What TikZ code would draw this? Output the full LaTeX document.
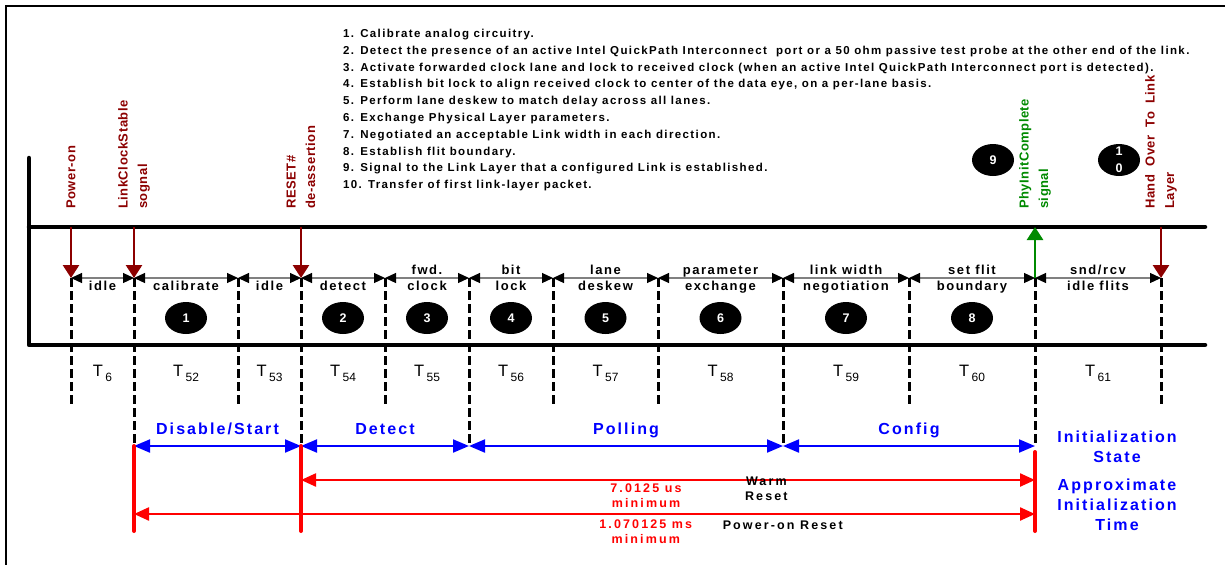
\documentclass[tikz,border=0pt]{standalone}
\usepackage{fontspec}
\setmainfont{Liberation Sans}
\usepackage{tikz}
\usetikzlibrary{arrows.meta,shapes.geometric}
\definecolor{rossoscuro}{HTML}{8C0000}
\definecolor{verde}{HTML}{008A00}
\definecolor{blustato}{HTML}{0000FF}
\definecolor{rosso}{HTML}{FF0000}
\newcommand{\tlab}[1]{T\kern2.5pt\raisebox{-5pt}{\fontsize{12}{12}\selectfont #1}}

\begin{document}
\begin{tikzpicture}[x=1pt, y=-1pt,
            every node/.style={inner sep=0pt},
            binario/.style={line width=4.5pt, line cap=round, line join=round},
            tick/.style={dash pattern=on 9pt off 4pt, line width=3pt},
            fase/.style={{Triangle[length=11pt,width=10pt,color=black]}-{Triangle[length=11pt,width=10pt,color=black]}, gray, line width=1.2pt},
            segnale/.style={-{Triangle[length=13pt,width=16pt]}, line width=2.7pt},
            stato/.style={{Triangle[length=16pt,width=13pt]}-{Triangle[length=16pt,width=13pt]}, blustato, line width=2pt},
            reset/.style={{Triangle[length=15pt,width=13pt]}-{Triangle[length=15pt,width=13pt]}, rosso, line width=2.3pt},
            limite/.style={rosso, line width=4pt, line cap=round},
            passo/.style={ellipse, fill=black, minimum width=42pt, minimum height=32pt},
            numero/.style={text=white, align=center, font=\fontsize{12.5}{17}\selectfont\bfseries},
            elenco/.style={align=left, font=\fontsize{11.5}{16.8}\selectfont\bfseries\addfontfeatures{LetterSpace=12}},
            fasetesto/.style={align=center, font=\fontsize{13}{16}\selectfont\bfseries\addfontfeatures{LetterSpace=12}},
            segtesto/.style={rotate=90, anchor=west, align=left, font=\fontsize{13}{19.5}\selectfont\bfseries\addfontfeatures{LetterSpace=4}},
            tempo/.style={anchor=base, font=\fontsize{16.5}{17}\selectfont},
            statotesto/.style={text=blustato, align=center, font=\fontsize{16}{20}\selectfont\bfseries\addfontfeatures{LetterSpace=13}},
            resettesto/.style={align=center, text=black, font=\fontsize{12.5}{14.5}\selectfont\bfseries\addfontfeatures{LetterSpace=17}}]
        \useasboundingbox (0,0) rectangle (1225,565);

        % Cornice
        \draw[line width=2.3pt] (1225,6) -- (6,6) -- (6,565);

        % Righe di riferimento
        \coordinate (sup) at (0,227);
        \coordinate (etich) at (0,209);
        \coordinate (wr) at (0,480);
        \coordinate (pr) at (0,514);
        \coordinate (fondo) at (0,531);

        % Binario del link
        \draw[binario] (29,158) -- (29,345) -- (1205,345);
        \draw[binario] (29,227) -- (1205,227);

        % Confini delle fasi (tratteggiati)
        \foreach \n/\x/\y in {0/71/407, 1/134/446, 2/238/407, 3/301/446,
                4/385/407, 5/469/446, 6/553/407, 7/658/407,
                8/783/446, 9/909/407, 10/1035/446, 11/1161/407}{
                \coordinate (b\n) at (\x,278);
                \coordinate (f\n) at (\x,\y);
                \draw[tick] (b\n) -- (f\n);
            }

        % Frecce delle fasi
        \foreach \a [count=\b] in {0,...,10}
            \draw[fase] (b\a) -- (b\b);

        % Nomi delle fasi (ultima riga sotto la freccia)
        \foreach \a/\b/\txt in {
                0/1/idle,
                1/2/calibrate,
                2/3/idle,
                3/4/detect,
                4/5/{fwd.\\clock},
                5/6/{bit\\lock},
                6/7/{lane\\deskew},
                7/8/{parameter\\exchange},
                8/9/{link width\\negotiation},
                9/10/{set flit\\boundary},
                10/11/{snd/rcv\\idle flits}}
            \path (b\a) -- (b\b) node[midway, fasetesto, anchor=base, yshift=-12pt] (l\a) {\txt};

        % Passi numerati
        \foreach \a/\b/\k in {1/2/1, 3/4/2, 4/5/3, 5/6/4, 6/7/5, 7/8/6, 8/9/7, 9/10/8}
            \path (b\a) -- (b\b) node[midway, passo, numero, yshift=-40pt] (n\k) {\k};
        \node[passo, numero] (n9) at (993,160) {9};
        \node[passo] (n10) at (1119,160) {};
        \node[numero] at (n10) {1\\0};

        % Tempi
        \foreach \a/\b/\t in {0/1/6, 1/2/52, 2/3/53, 3/4/54, 4/5/55, 5/6/56,
                6/7/57, 7/8/58, 8/9/59, 9/10/60, 10/11/61}
            \path (b\a) -- (b\b) node[midway, tempo, yshift=-98pt] (t\t) {\tlab{\t}};

        % Segnali
        \foreach \n/\txt in {
                0/Power-on,
                1/{LinkClockStable\\sognal},
                3/{RESET\#\\de-assertion},
                11/{Hand\hspace{4pt} Over\hspace{4pt} To\hspace{4pt} Link\\Layer}}{
                \draw[segnale, rossoscuro] (b\n |- sup) -- (b\n);
                \node[segtesto, text=rossoscuro] (s\n) at (b\n |- etich) {\txt};
            }
        \draw[segnale, verde] (b10) -- (b10 |- sup);
        \node[segtesto, text=verde] (s10) at (b10 |- etich) {PhyInitComplete\\signal};

        % Stati di inizializzazione
        \foreach \a/\b/\txt in {1/3/{Disable/Start}, 3/5/Detect, 5/8/Polling, 8/10/Config}
            \draw[stato] (f\a) -- (f\b)
            node[midway, statotesto, anchor=base, yshift=12pt] (st\a) {\txt};
        \node[statotesto, anchor=base] (init) at (1117,462) {Initialization\\State};
        \node[statotesto, anchor=base] (durata) at (1117,530) {Approximate\\Initialization\\Time};

        % Tempi di reset
        \draw[limite] (f1) -- (f1 |- fondo);
        \draw[limite] (f3) -- (f3 |- fondo);
        \draw[limite] ([yshift=-6pt]f10) -- (f10 |- fondo);
        \draw[reset] (f3 |- wr) -- (f10 |- wr)
        node[pos=0.47, resettesto, text=rosso, anchor=base, yshift=-27pt] (wmin) {7.0125 us\\minimum}
        node[pos=0.634, resettesto, anchor=base, yshift=-20pt] (wlab) {Warm\\Reset};
        \draw[reset] (f1 |- pr) -- (f10 |- pr)
        node[pos=0.568, resettesto, text=rosso, anchor=base, yshift=-29pt] (pmin) {1.070125 ms\\minimum}
        node[pos=0.72, resettesto, anchor=base, yshift=-15pt] (plab) {Power-on Reset};

        % Elenco dei passi
        \node[elenco, anchor=base west] (lista) at (343,188.7) {1. Calibrate analog circuitry.\\
                2. Detect the presence of an active Intel QuickPath Interconnect\ \ port or a 50 ohm passive test probe at the other end of the link.\\
                3. Activate forwarded clock lane and lock to received clock (when an active Intel QuickPath Interconnect port is detected).\\
                4. Establish bit lock to align received clock to center of the data eye, on a per-lane basis.\\
                5. Perform lane deskew to match delay across all lanes.\\
                6. Exchange Physical Layer parameters.\\
                7. Negotiated an acceptable Link width in each direction.\\
                8. Establish flit boundary.\\
                9. Signal to the Link Layer that a configured Link is established.\\
                10. Transfer of first link-layer packet.};
    \end{tikzpicture}
\end{document}
